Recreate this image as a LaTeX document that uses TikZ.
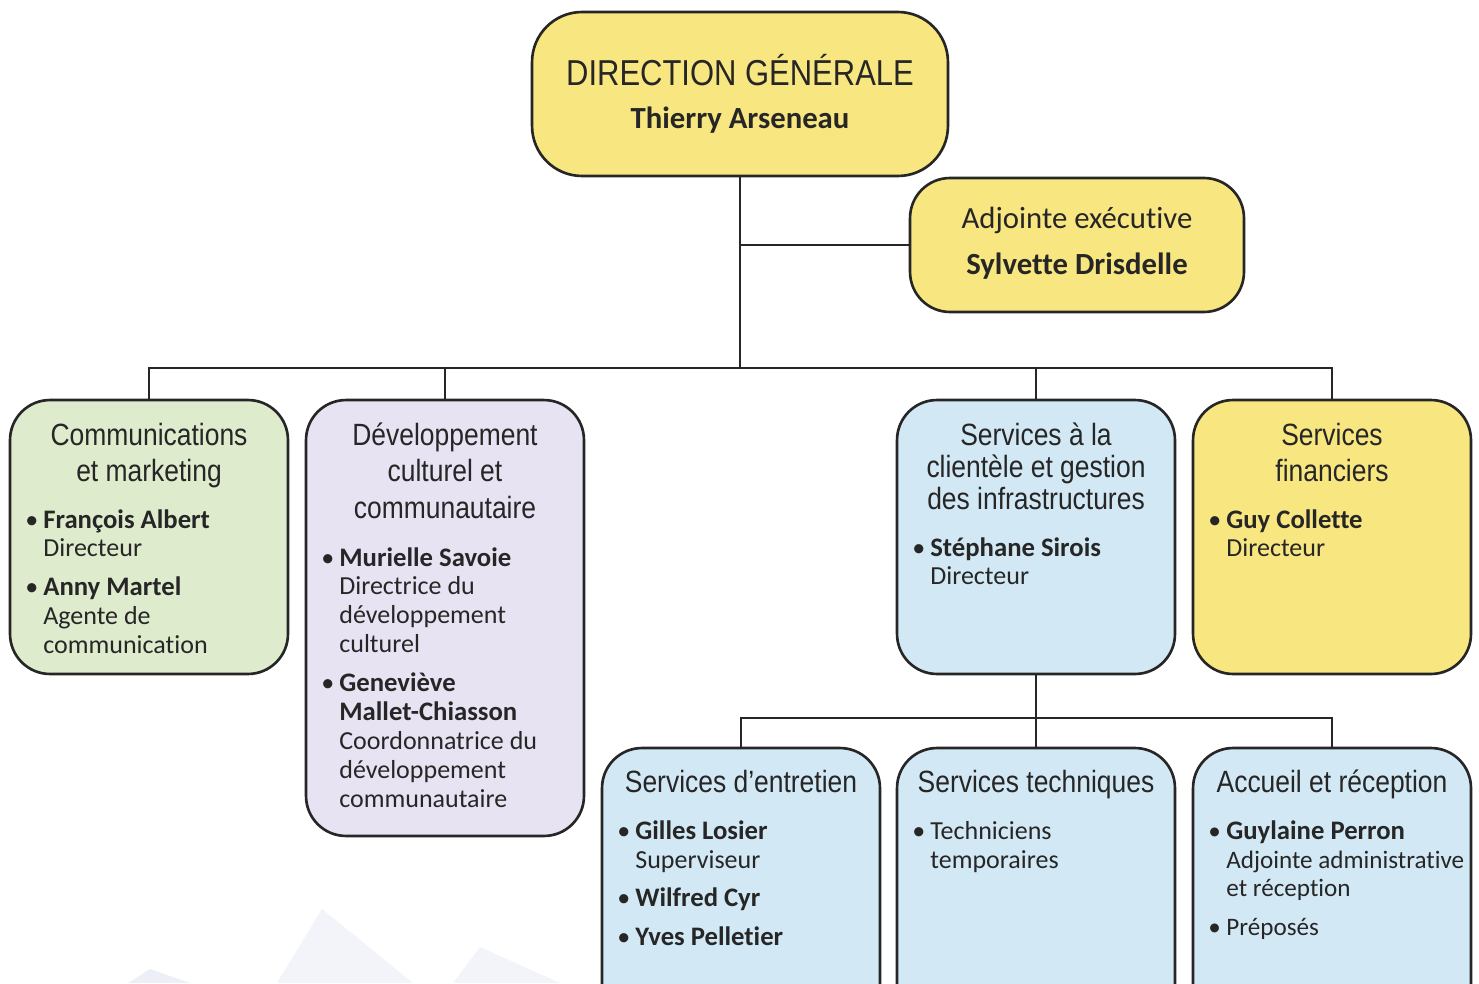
\documentclass[tikz,border=0pt]{standalone}
\usepackage{fontspec}
\setmainfont{Carlito}[Ligatures=NoCommon]
\newfontfamily\titlefont[FakeStretch=0.86]{Liberation Sans}
\usepackage{tikz}
\usetikzlibrary{positioning}
\usepackage{xcolor}
\definecolor{boxline}{HTML}{262626}
\definecolor{dgyellow}{HTML}{F8E680}
\definecolor{commgreen}{HTML}{DEEBCD}
\definecolor{devlilac}{HTML}{E7E3F2}
\definecolor{serviceblue}{HTML}{D2E8F4}
\definecolor{watermark}{HTML}{D8DCEC}
\tikzset{
    every node/.style={text=boxline},
    unit/.style={
        draw=boxline,
        line width=1.5pt,
        rounded corners=0.8cm,
        minimum width=5.56cm,
        inner sep=0pt
    },
    link/.style={
        draw=boxline,
        line width=1.1pt
    },
    head/.style={
        anchor=base,
        inner sep=0pt,
        font=\titlefont\fontsize{17.5}{21}\selectfont
    },
    staff/.style={
        anchor=base west,
        inner sep=0pt,
        font=\fontsize{14.8}{16.5}\selectfont
    }
}
\newcommand{\headlines}[1]{\begin{tabular}[t]{@{}c@{}}#1\end{tabular}}
\newcommand{\stafflist}[1]{\begin{tabular}[t]{@{}p{0.36cm}@{}l@{}}#1\end{tabular}}
\newcommand{\who}[1]{{\fontsize{15.2}{16.5}\selectfont\bfseries #1}}

\begin{document}
\begin{tikzpicture}[x=0.02cm, y=-0.02cm]
    \useasboundingbox (0,0) rectangle (1479,983);
    \clip (0,0) rectangle (1479,983);
    \fill[white] (0,0) rectangle (1479,983);

    % faint background picture
    \fill[watermark, opacity=0.3] (277,983) -- (322,909) -- (413,983) -- cycle;
    \fill[watermark, opacity=0.3] (453,983) -- (480,947) -- (560,983) -- cycle;
    \fill[watermark, opacity=0.45] (128,983) -- (150,969) -- (190,983) -- cycle;

    % Direction
    \node[unit, fill=dgyellow, minimum width=8.32cm, minimum height=3.28cm, rounded corners=1cm] (dg) at (740,94) {};
    \node[head, font=\titlefont\fontsize{20.5}{24}\selectfont] (dg-title) at (740,86) {DIRECTION GÉNÉRALE};
    \node[anchor=base, inner sep=0pt, font=\bfseries\fontsize{17.5}{21}\selectfont] (dg-name) at (740,129) {Thierry Arseneau};

    \node[unit, fill=dgyellow, minimum width=6.68cm, minimum height=2.68cm] (adj) at (1077,245) {};
    \node[anchor=base, inner sep=0pt, font=\fontsize{17.5}{21}\selectfont] (adj-title) at (1077,228) {Adjointe exécutive};
    \node[anchor=base, inner sep=0pt, font=\bfseries\fontsize{17.5}{21}\selectfont] (adj-name) at (1077,274) {Sylvette Drisdelle};

    % Departments
    \node[unit, fill=commgreen, minimum height=5.48cm] (comm) at (149,537) {};
    \node[head] (comm-t) at (149,445) {\headlines{Communications\\et marketing}};
    \node[staff] (comm-l) at (25,528) {\stafflist{%
        \textbullet & \who{François Albert}\\
                    & Directeur\\[5.5pt]
        \textbullet & \who{Anny Martel}\\
                    & Agente de\\
                    & communication}};

    \node[unit, fill=devlilac, minimum height=8.72cm] (dev) at (445,618) {};
    \node[head] (dev-t) at (445,445) {\headlines{Développement\\culturel et\\communautaire}};
    \node[staff] (dev-l) at (321,566) {\stafflist{%
        \textbullet & \who{Murielle Savoie}\\
                    & Directrice du\\
                    & développement\\
                    & culturel\\[5.5pt]
        \textbullet & \who{Geneviève}\\
                    & \who{Mallet-Chiasson}\\
                    & Coordonnatrice du\\
                    & développement\\
                    & communautaire}};

    \node[unit, fill=serviceblue, minimum height=5.48cm] (cli) at (1036,537) {};
    \node[head, font=\titlefont\fontsize{17.5}{18.4}\selectfont] (cli-t) at (1036,445) {\headlines{Services à la\\clientèle et gestion\\des infrastructures}};
    \node[staff] (cli-l) at (912,556) {\stafflist{%
        \textbullet & \who{Stéphane Sirois}\\
                    & Directeur}};

    \node[unit, fill=dgyellow, minimum height=5.48cm] (fin) at (1332,537) {};
    \node[head] (fin-t) at (1332,445) {\headlines{Services\\financiers}};
    \node[staff] (fin-l) at (1208,528) {\stafflist{%
        \textbullet & \who{Guy Collette}\\
                    & Directeur}};

    % Services under the client services
    \node[unit, fill=serviceblue, minimum height=6cm] (ent) at (741,898) {};
    \node[head] (ent-t) at (741,792) {Services d’entretien};
    \node[staff] (ent-l) at (617,839) {\stafflist{%
        \textbullet & \who{Gilles Losier}\\
                    & Superviseur\\[5.5pt]
        \textbullet & \who{Wilfred Cyr}\\[5.5pt]
        \textbullet & \who{Yves Pelletier}}};

    \node[unit, fill=serviceblue, minimum height=6cm] (tech) at (1036,898) {};
    \node[head] (tech-t) at (1036,792) {Services techniques};
    \node[staff] (tech-l) at (912,839) {\stafflist{%
        \textbullet & Techniciens\\
                    & temporaires}};

    \node[unit, fill=serviceblue, minimum height=6cm] (acc) at (1332,898) {};
    \node[head] (acc-t) at (1332,792) {Accueil et réception};
    \node[staff, font=\fontsize{14.3}{16.5}\selectfont] (acc-l) at (1208,839) {\stafflist{%
        \textbullet & \who{Guylaine Perron}\\
                    & Adjointe administrative\\
                    & et réception\\[5.5pt]
        \textbullet & Préposés}};

    % Links
    \coordinate (bus) at (740,368);
    \coordinate (subbus) at (1036,718);
    \draw[link] (dg.south) -- (bus);
    \draw[link] (dg.south |- adj.west) -- (adj.west);
    \draw[link] (comm.north) |- (bus) -| (fin.north);
    \draw[link] (dev.north) -- (dev.north |- bus);
    \draw[link] (cli.north) -- (cli.north |- bus);
    \draw[link] (cli.south) -- (tech.north);
    \draw[link] (ent.north) |- (subbus) -| (acc.north);
\end{tikzpicture}
\end{document}
